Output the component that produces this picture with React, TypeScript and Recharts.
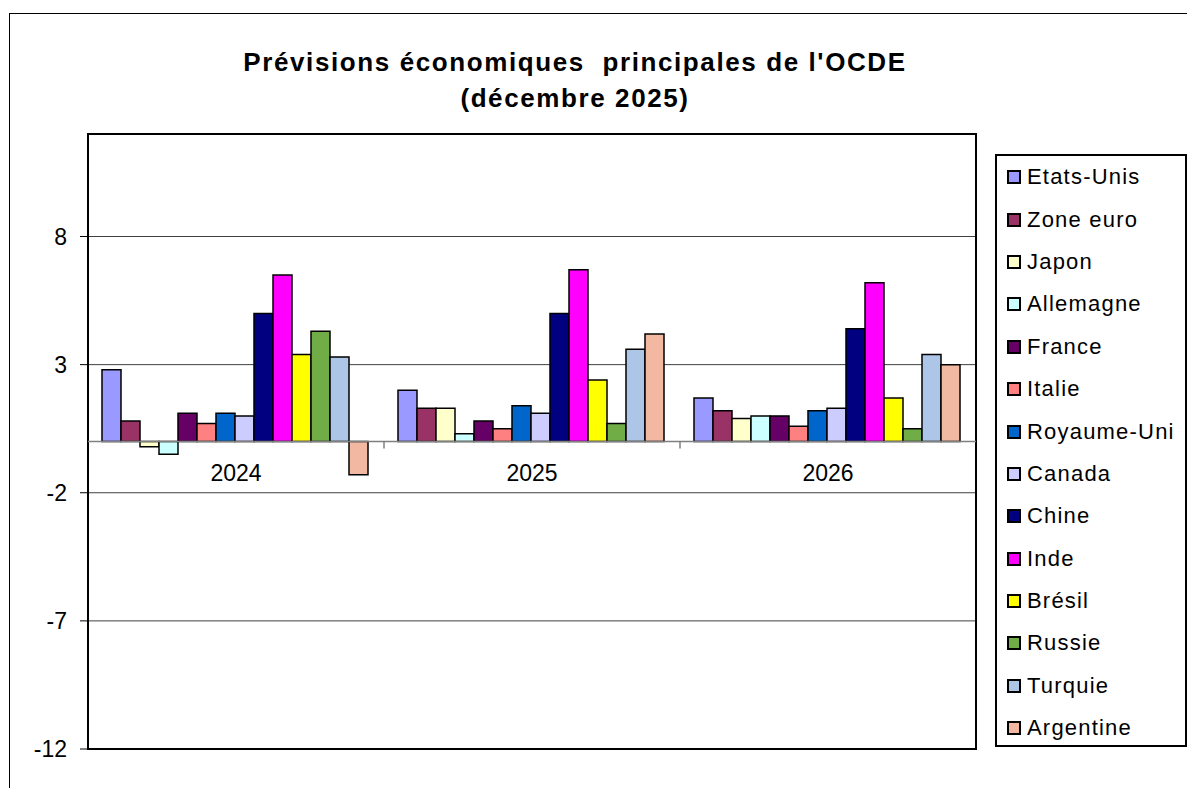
import { BarChart, Bar, XAxis, YAxis, CartesianGrid, Legend, ReferenceArea, ReferenceLine } from 'recharts'

const years = ['2024', '2025', '2026']

const etatsUnis = [2.8, 2.0, 1.7]
const zoneEuro = [0.8, 1.3, 1.2]
const japon = [-0.2, 1.3, 0.9]
const allemagne = [-0.5, 0.3, 1.0]
const france = [1.1, 0.8, 1.0]
const italie = [0.7, 0.5, 0.6]
const royaumeUni = [1.1, 1.4, 1.2]
const canada = [1.0, 1.1, 1.3]
const chine = [5.0, 5.0, 4.4]
const inde = [6.5, 6.7, 6.2]
const bresil = [3.4, 2.4, 1.7]
const russie = [4.3, 0.7, 0.5]
const turquie = [3.3, 3.6, 3.4]
const argentine = [-1.3, 4.2, 3.0]

const yTicks = [-12, -7, -2, 3, 8]

const SERIES = [
  { key: 'Etats-Unis', values: etatsUnis, color: '#9999FF' },
  { key: 'Zone euro', values: zoneEuro, color: '#993366' },
  { key: 'Japon', values: japon, color: '#FFFFCC' },
  { key: 'Allemagne', values: allemagne, color: '#CCFFFF' },
  { key: 'France', values: france, color: '#660066' },
  { key: 'Italie', values: italie, color: '#FF8080' },
  { key: 'Royaume-Uni', values: royaumeUni, color: '#0066CC' },
  { key: 'Canada', values: canada, color: '#CCCCFF' },
  { key: 'Chine', values: chine, color: '#000080' },
  { key: 'Inde', values: inde, color: '#FF00FF' },
  { key: 'Brésil', values: bresil, color: '#FFFF00' },
  { key: 'Russie', values: russie, color: '#70AD47' },
  { key: 'Turquie', values: turquie, color: '#ADC5E7' },
  { key: 'Argentine', values: argentine, color: '#F3B8A2' },
]

const data = years.map((year, i) => {
  const row: Record<string, string | number> = { year }
  SERIES.forEach((s) => {
    row[s.key] = s.values[i]
  })
  return row
})

const FONT = '"Liberation Sans", Arial, sans-serif'
const W = 1187
const H = 788
const PLOT_LEFT = 88
const PLOT_RIGHT = 976
const PLOT_TOP = 134
const PLOT_BOTTOM = 749
const X_AXIS_H = 30
const Y_MIN = -12
const Y_MAX = 12
const ZERO_Y = PLOT_TOP + ((PLOT_BOTTOM - PLOT_TOP) * Y_MAX) / (Y_MAX - Y_MIN)

// year labels sit under the zero line, with a small tick on the left edge of each band
const YearTick = (props: any) => {
  const { x, payload, index } = props
  const band = (PLOT_RIGHT - PLOT_LEFT) / years.length
  const left = x - band / 2
  return (
    <g>
      {index > 0 && <line x1={left} x2={left} y1={ZERO_Y} y2={ZERO_Y + 7} stroke="#808080" strokeWidth={1.5} />}
      <text x={x} y={ZERO_Y + 39} textAnchor="middle" fontSize={23} fontFamily={FONT} fill="#000">
        {payload.value}
      </text>
    </g>
  )
}

// legend keeps the series order (no alphabetical sort)
const LegendBox = () => (
  <div style={{ width: 188, height: 589, border: '2px solid #000', background: '#fff' }}>
    {SERIES.map((s) => (
      <div key={s.key} style={{ height: 42.4, display: 'flex', alignItems: 'center', paddingLeft: 10 }}>
        <span
          style={{
            display: 'inline-block',
            width: 10,
            height: 10,
            background: s.color,
            border: '2px solid #000',
            marginRight: 6,
          }}
        />
        <span style={{ fontSize: 22, fontFamily: FONT, letterSpacing: 1.2, color: '#000' }}>{s.key}</span>
      </div>
    ))}
  </div>
)

export default function App() {
  return (
    <div style={{ position: 'absolute', left: 0, top: 0, width: W, height: H, overflow: 'hidden', background: '#fff' }}>
      <div
        style={{
          position: 'absolute',
          left: 9,
          top: 13,
          width: W + 20,
          height: H + 20,
          border: '1.5px solid #000',
        }}
      />
      <div
        style={{
          position: 'absolute',
          left: 0,
          top: 44,
          width: 1150,
          textAlign: 'center',
          fontFamily: FONT,
          fontWeight: 'bold',
          fontSize: 26,
          letterSpacing: 1.6,
          lineHeight: '36px',
          whiteSpace: 'pre',
          color: '#000',
        }}
      >
        {"Prévisions économiques  principales de l'OCDE"}
        <br />
        (décembre 2025)
      </div>
      <div style={{ position: 'absolute', left: 0, top: 0 }}>
        <BarChart
          width={W}
          height={H}
          data={data}
          margin={{ top: PLOT_TOP, right: W - PLOT_RIGHT, bottom: H - PLOT_BOTTOM - X_AXIS_H, left: 0 }}
          barCategoryGap={14}
          barGap={0}
        >
          <CartesianGrid vertical={false} stroke="#404040" strokeWidth={1} />
          <XAxis
            dataKey="year"
            axisLine={false}
            tickLine={false}
            tick={<YearTick />}
            height={X_AXIS_H}
            interval={0}
          />
          <YAxis
            width={PLOT_LEFT}
            domain={[Y_MIN, Y_MAX]}
            ticks={yTicks}
            interval={0}
            axisLine={false}
            tickSize={8}
            tickMargin={13}
            tickLine={{ stroke: '#000' }}
            tick={{ fontSize: 23, fontFamily: FONT, fill: '#000' }}
          />
          <Legend
            layout="vertical"
            align="center"
            verticalAlign="middle"
            wrapperStyle={{ position: 'absolute', left: 995, top: 154, width: 192 }}
            content={<LegendBox />}
          />
          <ReferenceLine y={0} stroke="#808080" strokeWidth={1.5} />
          {SERIES.map((s) => (
            <Bar key={s.key} dataKey={s.key} fill={s.color} stroke="#000" strokeWidth={1.5} isAnimationActive={false} />
          ))}
          <ReferenceArea y1={Y_MIN} y2={Y_MAX} fill="none" stroke="#000" strokeWidth={2} ifOverflow="visible" />
        </BarChart>
      </div>
    </div>
  )
}
